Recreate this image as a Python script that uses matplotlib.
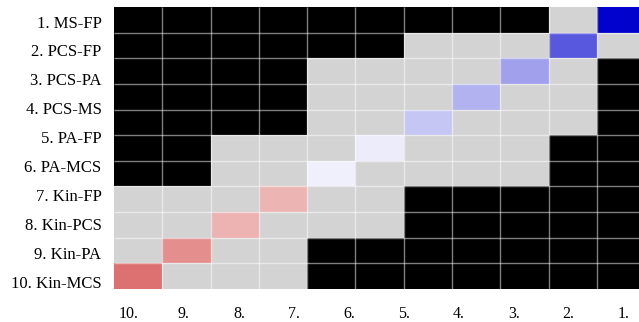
import numpy as np
import matplotlib
matplotlib.use("Agg")
import matplotlib.pyplot as plt
from matplotlib.colors import LinearSegmentedColormap, Normalize

row_labels = ["1. MS-FP", "2. PCS-FP", "3. PCS-PA", "4. PCS-MS", "5. PA-FP",
              "6. PA-MCS", "7. Kin-FP", "8. Kin-PCS", "9. Kin-PA", "10. Kin-MCS"]
col_labels = ["10.", "9.", "8.", "7.", "6.", "5.", "4.", "3.", "2.", "1."]

# B = black, G = grey, D = coloured (value below)
status = [
    "BBBBBBBBBGD",
    "BBBBBBGGGDG",
    "BBBBGGGGDGB",
    "BBBBGGGDGGB",
    "BBBBGGDGGGB",
    "BBGGGDGGGBB",
    "BBGGDGGGGBB",
    "GGGDGGBBBBB",
    "GGDGGGBBBBB",
    "GDGGBBBBBBB",
    "DGGGBBBBBBB",
]
diag_values = [-0.99, -0.65, -0.37, -0.30, -0.22, -0.075, -0.06, 0.29, 0.30, 0.44, 0.56]

cmap = LinearSegmentedColormap.from_list("bwr2", ["#0000cd", "#ffffff", "#c30000"])
norm = Normalize(-1, 1)

n = len(status)
rgb = np.zeros((n, n, 3))
for i, row in enumerate(status):
    for j, s in enumerate(row):
        if s == "B":
            rgb[i, j] = (0, 0, 0)
        elif s == "G":
            rgb[i, j] = (0.827, 0.827, 0.827)
        else:
            rgb[i, j] = cmap(norm(diag_values[i]))[:3]

fig = plt.figure(figsize=(6.39, 3.22), dpi=100)
ax = fig.add_axes([114 / 639, 33 / 322, 525 / 639, 282 / 322])
ax.pcolormesh(rgb)
# inner grid lines only
ax.hlines(np.arange(1, n), 0, n, colors=(1, 1, 1, 0.5), linewidth=1)
ax.vlines(np.arange(1, n), 0, n, colors=(1, 1, 1, 0.5), linewidth=1)
ax.set_xlim(0, 10.87)
ax.set_ylim(n, 0)

ax.set_yticks(np.linspace(0.57, 10.71, len(row_labels)))
ax.set_yticklabels(row_labels, family="Liberation Serif", fontsize=12)
ax.set_xticks(np.linspace(0.31, 10.55, len(col_labels)))
ax.set_xticklabels(col_labels, family="Liberation Serif", fontsize=11.5)
ax.tick_params(axis="y", length=0, pad=9)
ax.tick_params(axis="x", length=0, pad=12)
for sp in ax.spines.values():
    sp.set_visible(False)

fig.savefig("out.png", dpi=100)
